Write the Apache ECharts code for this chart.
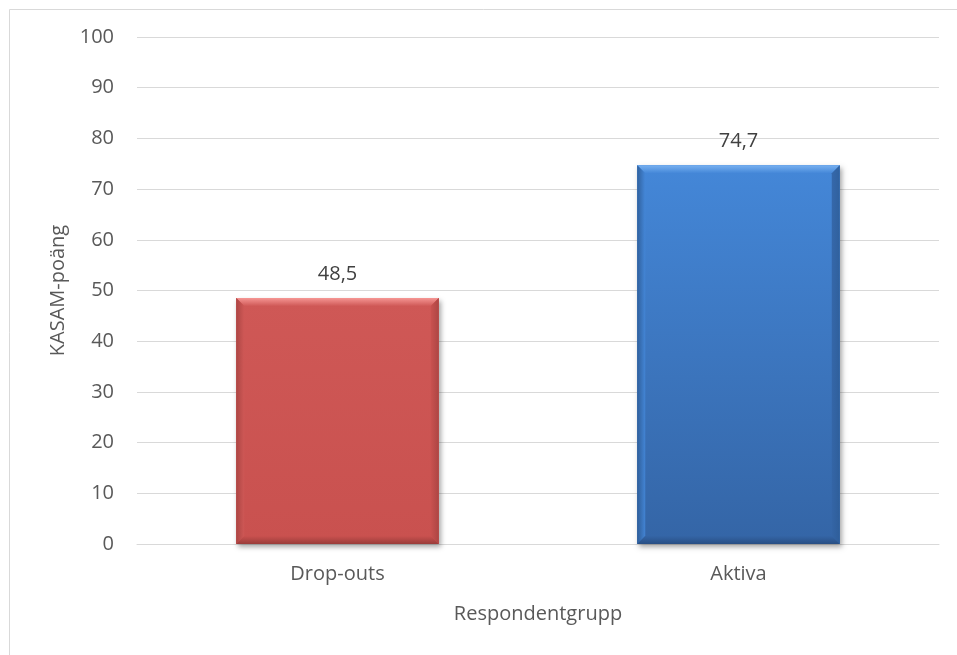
<!DOCTYPE html>
<html>
<head>
<meta charset="utf-8">
<script src="https://cdn.jsdelivr.net/npm/echarts@6/dist/echarts.min.js"></script>
<style>
  html, body { margin: 0; padding: 0; background: #fff; }
  #chart { width: 957px; height: 655px; }
</style>
</head>
<body>
<div id="chart"></div>
<script>
// Respondent groups and their mean KASAM score
const categories = ['Drop-outs', 'Aktiva'];
const scores = [48.5, 74.7];
const yTicks = { min: 0, max: 100, interval: 10 };

// Bevelled fill palettes, one per bar
const palettes = [
  { hi: '#F59593', face0: '#CF5856', face1: '#C9514F', side: '#A94442', low: '#9A3C3A' },
  { hi: '#77B0F0', face0: '#4487D8', face1: '#3465A6', side: '#2E5D98', low: '#284F84' }
];

const FONT = '"Open Sans", "Noto Sans", sans-serif';
const FS = 20;
const chart = echarts.init(document.getElementById('chart'));

function fmt(v) { return v.toFixed(1).replace('.', ','); }

function renderBar(params, api) {
  const idx = api.value(0);
  const val = api.value(1);
  const top = api.coord([idx, val]);
  const base = api.coord([idx, 0]);
  const band = api.size([1, 0])[0];
  const w = band * 0.505;
  const x0 = top[0] - w / 2, x1 = x0 + w;
  const y0 = top[1], y1 = base[1];
  const b = 8;
  const p = palettes[idx];
  const lin = (x, y, x2, y2, stops) => new echarts.graphic.LinearGradient(x, y, x2, y2, stops);
  return {
    type: 'group',
    children: [
      { type: 'rect', shape: { x: x0, y: y0, width: w, height: y1 - y0 },
        style: { fill: p.face0, shadowBlur: 5, shadowOffsetX: 2, shadowOffsetY: 3, shadowColor: 'rgba(0,0,0,0.35)' } },
      { type: 'rect', shape: { x: x0, y: y0, width: w, height: y1 - y0 },
        style: { fill: lin(0, 0, 0, 1, [{ offset: 0, color: p.face0 }, { offset: 1, color: p.face1 }]) } },
      // top facet
      { type: 'polygon', shape: { points: [[x0, y0], [x1, y0], [x1 - b, y0 + b], [x0 + b, y0 + b]] },
        style: { fill: lin(0, 0, 0, 1, [{ offset: 0, color: p.hi }, { offset: 1, color: p.face0 }]) } },
      // left facet
      { type: 'polygon', shape: { points: [[x0, y0], [x0 + b, y0 + b], [x0 + b, y1 - b], [x0, y1]] },
        style: { fill: lin(0, 0, 1, 0, [{ offset: 0, color: p.side }, { offset: 1, color: p.face0 }]), opacity: 0.9 } },
      // right facet
      { type: 'polygon', shape: { points: [[x1, y0], [x1 - b, y0 + b], [x1 - b, y1 - b], [x1, y1]] },
        style: { fill: lin(1, 0, 0, 0, [{ offset: 0, color: p.side }, { offset: 1, color: p.face1 }]), opacity: 0.9 } },
      // bottom facet
      { type: 'polygon', shape: { points: [[x0, y1], [x1, y1], [x1 - b, y1 - b], [x0 + b, y1 - b]] },
        style: { fill: lin(0, 1, 0, 0, [{ offset: 0, color: p.low }, { offset: 1, color: p.face1 }]) } },
      // value label
      { type: 'text', x: top[0], y: y0 - 24,
        style: { text: fmt(val), font: FS + 'px ' + FONT, fill: '#404040', align: 'center', verticalAlign: 'middle' } }
    ]
  };
}

chart.setOption({
  animation: false,
  backgroundColor: '#fff',
  graphic: [{
    type: 'rect', left: 7, top: 7, shape: { width: 1000, height: 700 },
    style: { fill: 'none', stroke: '#D9D9D9', lineWidth: 1 }, silent: true
  }],
  grid: { left: 137, right: 18, top: 37, bottom: 111 },
  xAxis: {
    type: 'category',
    data: categories,
    name: 'Respondentgrupp',
    nameLocation: 'middle',
    nameGap: 60,
    nameTextStyle: { fontFamily: FONT, fontSize: FS, color: '#595959' },
    axisLine: { lineStyle: { color: '#D9D9D9', width: 1 } },
    axisTick: { show: false },
    axisLabel: { fontFamily: FONT, fontSize: FS, color: '#595959', margin: 20 }
  },
  yAxis: {
    type: 'value',
    min: yTicks.min, max: yTicks.max, interval: yTicks.interval,
    name: 'KASAM-poäng',
    nameLocation: 'middle',
    nameGap: 58,
    nameRotate: 90,
    nameTextStyle: { fontFamily: FONT, fontSize: FS, color: '#595959' },
    axisLine: { show: false },
    axisTick: { show: false },
    axisLabel: { fontFamily: FONT, fontSize: FS, color: '#595959', margin: 23 },
    splitLine: { lineStyle: { color: '#D9D9D9', width: 1 } }
  },
  series: [{
    type: 'custom',
    renderItem: renderBar,
    encode: { x: 0, y: 1 },
    data: scores.map((v, i) => [i, v])
  }]
});
</script>
</body>
</html>
